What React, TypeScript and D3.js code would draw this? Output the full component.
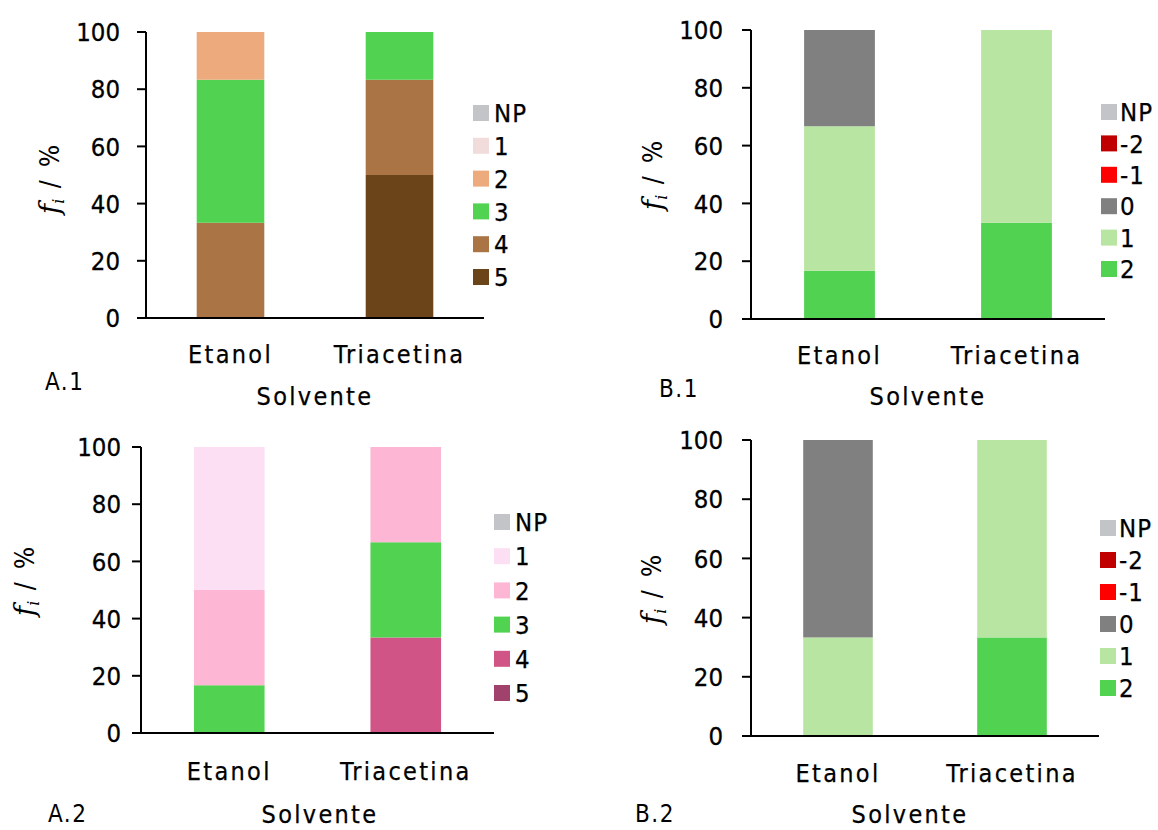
import React from "react";
import * as d3 from "d3";

// ---------- data ----------
const categories = ["Etanol", "Triacetina"];
const yTicks = [0, 20, 40, 60, 80, 100];

const legendA = ["NP", "1", "2", "3", "4", "5"];
const legendB = ["NP", "-2", "-1", "0", "1", "2"];

const colorsA1 = ["#C3C4C8", "#F2DCDB", "#ECAA7D", "#51D251", "#AB7444", "#6B4519"];
const colorsA2 = ["#C3C4C8", "#FDDFF3", "#FDB7D4", "#51D251", "#D05486", "#A0426B"];
const colorsB = ["#C3C4C8", "#C00000", "#FF0000", "#808080", "#B8E5A2", "#51D251"];

// values per category, in legend order
const a1Etanol = [0, 0, 16.7, 50, 33.3, 0];
const a1Triacetina = [0, 0, 0, 16.7, 33.3, 50];
const a2Etanol = [0, 50, 33.3, 16.7, 0, 0];
const a2Triacetina = [0, 0, 33.3, 33.3, 33.4, 0];
const b1Etanol = [0, 0, 0, 33.3, 50, 16.7];
const b1Triacetina = [0, 0, 0, 0, 66.7, 33.3];
const b2Etanol = [0, 0, 0, 66.7, 33.3, 0];
const b2Triacetina = [0, 0, 0, 0, 66.7, 33.3];

const FONT = "'DejaVu Sans Condensed', 'DejaVu Sans', sans-serif";

type Layout = {
  x0: number; x1: number; yTop: number; yBot: number;
  tickLabelX: number;
  legX: number; legY0: number; legStep: number; legTextX: number;
  yLabX: number; yLabY: number;
  catY: number;
  tag: string; tagX: number; tagY: number;
  solX: number; solY: number;
};

function Panel({ keys, colors, rows, L }: { keys: string[]; colors: string[]; rows: number[][]; L: Layout }) {
  const x = d3.scaleBand<string>().domain(categories).range([L.x0, L.x1]).paddingInner(0.6).paddingOuter(0.3);
  const y = d3.scaleLinear().domain([0, 100]).range([L.yBot, L.yTop]);
  const table = categories.map((c, ci) => {
    const o: any = { cat: c };
    keys.forEach((k, ki) => (o[k] = rows[ci][ki]));
    return o;
  });
  const stackKeys = [...keys].reverse();
  const series = d3.stack<any>().keys(stackKeys)(table);
  const colorOf = (k: string) => colors[keys.indexOf(k)];
  return (
    <g>
      {series.map((s) => (
        <g key={s.key} fill={colorOf(s.key)}>
          {s.map((d, i) =>
            d[1] - d[0] > 0 ? (
              <rect key={i} x={x(categories[i])!} width={x.bandwidth()} y={y(d[1])} height={y(d[0]) - y(d[1])} />
            ) : null
          )}
        </g>
      ))}
      {/* axes */}
      <line x1={L.x0} x2={L.x0} y1={L.yTop} y2={L.yBot} stroke="#000" strokeWidth={2} />
      <line x1={L.x0 - 1} x2={L.x1} y1={L.yBot} y2={L.yBot} stroke="#000" strokeWidth={2} />
      {yTicks.map((t) => (
        <g key={t}>
          <line x1={L.x0 - 9} x2={L.x0} y1={y(t)} y2={y(t)} stroke="#000" strokeWidth={2} />
          <text x={L.tickLabelX} y={y(t)} dy="0.36em" textAnchor="end" fontSize={25.5} fontFamily={FONT} stroke="#000" strokeWidth={0.3}>
            {t}
          </text>
        </g>
      ))}
      {categories.map((c) => (
        <text key={c} x={x(c)! + x.bandwidth() / 2} y={L.catY} textAnchor="middle" fontSize={25} fontFamily={FONT} letterSpacing={2.3} stroke="#000" strokeWidth={0.25}>
          {c}
        </text>
      ))}
      {/* y label */}
      <text transform={`translate(${L.yLabX},${L.yLabY}) rotate(-90)`} textAnchor="middle" fontSize={26} fontFamily={FONT}>
        <tspan fontFamily="'DejaVu Serif', serif" fontStyle="italic" fontSize={28}>f</tspan>
        <tspan fontFamily="'DejaVu Serif', serif" fontStyle="italic" fontSize={16} dy={5}>i</tspan>
        <tspan dy={-5} letterSpacing={3}> / %</tspan>
      </text>
      {/* legend */}
      {keys.map((k, i) => (
        <g key={k}>
          <rect x={L.legX} y={L.legY0 + i * L.legStep - 8} width={16} height={16} fill={colors[i]} />
          <text x={L.legTextX} y={L.legY0 + i * L.legStep} dy="0.36em" fontSize={25.5} fontFamily={FONT} letterSpacing={1} stroke="#000" strokeWidth={0.25}>
            {k}
          </text>
        </g>
      ))}
      <text x={L.tagX} y={L.tagY} fontSize={24} fontFamily={FONT} letterSpacing={1.5}>{L.tag}</text>
      <text x={L.solX} y={L.solY} textAnchor="middle" fontSize={25} fontFamily={FONT} letterSpacing={2.3} stroke="#000" strokeWidth={0.25}>Solvente</text>
    </g>
  );
}

const layA1: Layout = { x0: 146, x1: 484, yTop: 32, yBot: 318, tickLabelX: 120, legX: 473, legY0: 113, legStep: 32.8, legTextX: 494, yLabX: 59, yLabY: 178, catY: 363, tag: "A.1", tagX: 45, tagY: 390, solX: 315, solY: 405 };
const layB1: Layout = { x0: 751, x1: 1105, yTop: 30, yBot: 319, tickLabelX: 723, legX: 1101, legY0: 112, legStep: 31.4, legTextX: 1120, yLabX: 662, yLabY: 174, catY: 364, tag: "B.1", tagX: 659, tagY: 397, solX: 928, solY: 405 };
const layA2: Layout = { x0: 141, x1: 494, yTop: 447, yBot: 733, tickLabelX: 121, legX: 494, legY0: 522, legStep: 34.2, legTextX: 515, yLabX: 34, yLabY: 580, catY: 780, tag: "A.2", tagX: 48, tagY: 822, solX: 320, solY: 823 };
const layB2: Layout = { x0: 751, x1: 1099, yTop: 440, yBot: 736, tickLabelX: 723, legX: 1100, legY0: 528, legStep: 32, legTextX: 1119, yLabX: 661, yLabY: 588, catY: 782, tag: "B.2", tagX: 635, tagY: 822, solX: 910, solY: 823 };

export default function App() {
  return (
    <svg width={1158} height={830} style={{ position: "absolute", left: 0, top: 0, background: "#fff" }}>
      <rect width={1158} height={830} fill="#fff" />
      <Panel keys={legendA} colors={colorsA1} rows={[a1Etanol, a1Triacetina]} L={layA1} />
      <Panel keys={legendB} colors={colorsB} rows={[b1Etanol, b1Triacetina]} L={layB1} />
      <Panel keys={legendA} colors={colorsA2} rows={[a2Etanol, a2Triacetina]} L={layA2} />
      <Panel keys={legendB} colors={colorsB} rows={[b2Etanol, b2Triacetina]} L={layB2} />
    </svg>
  );
}
